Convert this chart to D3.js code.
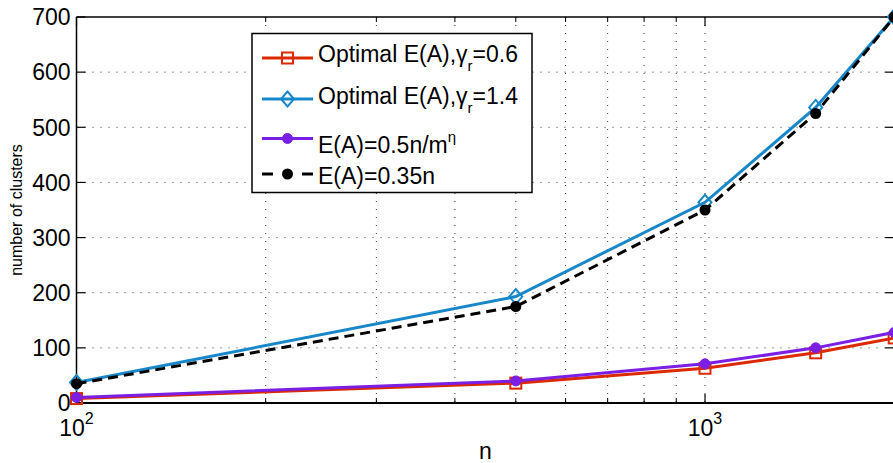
<!DOCTYPE html>
<html>
<head>
<meta charset="utf-8">
<script src="https://cdn.jsdelivr.net/npm/d3@7"></script>
<style>
  html, body { margin: 0; padding: 0; background: #fff; }
  svg { display: block; font-family: "Liberation Sans", Arial, Helvetica, sans-serif; }
</style>
</head>
<body>
<svg id="chart" width="893" height="463"></svg>
<script>
// ---- data ----
const nValues      = [100, 500, 1000, 1500, 2000];
const optimalG06   = [8, 36, 63, 91, 118];      // Optimal E(A), gamma_r = 0.6
const optimalG14   = [37, 193, 364, 536, 700];  // Optimal E(A), gamma_r = 1.4
const eaPowerLaw   = [10, 40, 71, 100, 128];    // E(A) = 0.5 n / m^eta
const ea035n       = [35, 175, 350, 525, 700];  // E(A) = 0.35 n
const yTicks       = [0, 100, 200, 300, 400, 500, 600, 700];
const xMajorTicks  = [100, 1000];
const xMinorTicks  = [200, 300, 400, 500, 600, 700, 800, 900, 2000];

// ---- layout ----
const svg = d3.select("#chart");
const L = 76.5, T = 17, R = 894.2, B = 403;
const x = d3.scaleLog().domain([100, 2000]).range([L, R]);
const y = d3.scaleLinear().domain([0, 700]).range([B, T]);

const gridColor = "#333";
const grid = svg.append("g");
grid.selectAll("line.h").data(yTicks.filter(d => d > 0 && d < 700)).enter().append("line")
  .attr("x1", L).attr("x2", R).attr("y1", d => y(d)).attr("y2", d => y(d))
  .attr("stroke", gridColor).attr("stroke-width", 1).attr("stroke-dasharray", "1,7");
grid.selectAll("line.v").data(xMinorTicks.concat([1000])).enter().append("line")
  .attr("x1", d => x(d)).attr("x2", d => x(d)).attr("y1", T).attr("y2", B)
  .attr("stroke", gridColor).attr("stroke-width", 1).attr("stroke-dasharray", "1,7");

// axes frame
const frame = svg.append("g");
frame.append("line").attr("x1", L).attr("x2", R).attr("y1", B).attr("y2", B).attr("stroke", "#000").attr("stroke-width", 2);
frame.append("line").attr("x1", L).attr("x2", R).attr("y1", T).attr("y2", T).attr("stroke", "#000").attr("stroke-width", 1.5);
frame.append("line").attr("x1", L).attr("x2", L).attr("y1", T).attr("y2", B).attr("stroke", "#000").attr("stroke-width", 1.5);
frame.append("line").attr("x1", R).attr("x2", R).attr("y1", T).attr("y2", B).attr("stroke", "#000").attr("stroke-width", 1.5);

yTicks.forEach(v => {
  frame.append("line").attr("x1", L).attr("x2", L + 9).attr("y1", y(v)).attr("y2", y(v)).attr("stroke", "#000").attr("stroke-width", 1.2);
  frame.append("line").attr("x1", R - 9).attr("x2", R).attr("y1", y(v)).attr("y2", y(v)).attr("stroke", "#000").attr("stroke-width", 1.2);
});
xMajorTicks.forEach(v => {
  frame.append("line").attr("x1", x(v)).attr("x2", x(v)).attr("y1", B).attr("y2", B - 9).attr("stroke", "#000").attr("stroke-width", 1.2);
  frame.append("line").attr("x1", x(v)).attr("x2", x(v)).attr("y1", T).attr("y2", T + 9).attr("stroke", "#000").attr("stroke-width", 1.2);
});
xMinorTicks.forEach(v => {
  frame.append("line").attr("x1", x(v)).attr("x2", x(v)).attr("y1", B).attr("y2", B - 5).attr("stroke", "#000").attr("stroke-width", 1);
  frame.append("line").attr("x1", x(v)).attr("x2", x(v)).attr("y1", T).attr("y2", T + 5).attr("stroke", "#000").attr("stroke-width", 1);
});

// y tick labels
svg.append("g").selectAll("text").data(yTicks).enter().append("text")
  .attr("x", L - 6).attr("y", d => y(d) + 8.3)
  .attr("text-anchor", "end").attr("font-size", 23).attr("fill", "#000")
  .text(d => d);

// x tick labels 10^k
xMajorTicks.forEach(v => {
  const t = svg.append("text").attr("x", x(v)).attr("y", 435.5)
    .attr("text-anchor", "middle").attr("font-size", 23).attr("fill", "#000");
  t.append("tspan").text("10");
  t.append("tspan").attr("dy", -12).attr("font-size", 16).text(Math.round(Math.log10(v)));
});

// axis titles
svg.append("text").attr("x", (L + R) / 2).attr("y", 458.5).attr("text-anchor", "middle")
  .attr("font-size", 23).attr("fill", "#000").text("n");
svg.append("text").attr("transform", `translate(21.5,${(T + B) / 2}) rotate(-90)`)
  .attr("text-anchor", "middle").attr("font-size", 16).attr("fill", "#000").text("number of clusters");

// ---- series ----
const series = [
  { vals: optimalG06, color: "#dc2a00", marker: "square", dash: null },
  { vals: optimalG14, color: "#1787c9", marker: "diamond", dash: null },
  { vals: eaPowerLaw, color: "#7b1fe4", marker: "circle", dash: null },
  { vals: ea035n,     color: "#000000", marker: "dot", dash: "10,6" }
];

const line = d3.line().x(d => x(d[0])).y(d => y(d[1]));

function drawMarker(g, type, cx, cy, color) {
  if (type === "square") {
    g.append("rect").attr("x", cx - 5.5).attr("y", cy - 5.5).attr("width", 11).attr("height", 11)
      .attr("fill", "none").attr("stroke", color).attr("stroke-width", 2);
  } else if (type === "diamond") {
    g.append("path").attr("d", `M${cx},${cy - 7.5}L${cx + 6.5},${cy}L${cx},${cy + 7.5}L${cx - 6.5},${cy}Z`)
      .attr("fill", "none").attr("stroke", color).attr("stroke-width", 2);
  } else if (type === "circle") {
    g.append("circle").attr("cx", cx).attr("cy", cy).attr("r", 5).attr("fill", color).attr("stroke", color).attr("stroke-width", 1);
  } else if (type === "dot") {
    g.append("circle").attr("cx", cx).attr("cy", cy).attr("r", 5.5).attr("fill", color);
  }
}

series.forEach(s => {
  const g = svg.append("g");
  const pts = nValues.map((n, i) => [n, s.vals[i]]);
  g.append("path").datum(pts).attr("d", line).attr("fill", "none")
    .attr("stroke", s.color).attr("stroke-width", 3)
    .attr("stroke-dasharray", s.dash);
  pts.forEach(p => drawMarker(g, s.marker, x(p[0]), y(p[1]), s.color));
});

// ---- legend ----
const lg = svg.append("g");
lg.append("rect").attr("x", 252).attr("y", 33.5).attr("width", 280).attr("height", 159)
  .attr("fill", "#fff").attr("stroke", "#000").attr("stroke-width", 1.5);

const legendRows = [
  { s: series[0], ly: 58, ty: 61.5, parts: [["Optimal E(A),γ", 0, 23], ["r", 9, 15], ["=0.6", -9, 23]] },
  { s: series[1], ly: 99, ty: 103.5, parts: [["Optimal E(A),γ", 0, 23], ["r", 9, 15], ["=1.4", -9, 23]] },
  { s: series[2], ly: 138.5, ty: 152.5, parts: [["E(A)=0.5n/m", 0, 23], ["η", -11, 15]] },
  { s: series[3], ly: 174, ty: 183.5, parts: [["E(A)=0.35n", 0, 23]] }
];
legendRows.forEach(r => {
  lg.append("line").attr("x1", 262).attr("x2", 313).attr("y1", r.ly).attr("y2", r.ly)
    .attr("stroke", r.s.color).attr("stroke-width", 3)
    .attr("stroke-dasharray", r.s.dash ? "11,29" : null);
  drawMarker(lg, r.s.marker, 287.5, r.ly, r.s.color);
  const t = lg.append("text").attr("x", 318).attr("y", r.ty).attr("fill", "#000");
  r.parts.forEach(p => t.append("tspan").attr("dy", p[1]).attr("font-size", p[2]).text(p[0]));
});
</script>
</body>
</html>
